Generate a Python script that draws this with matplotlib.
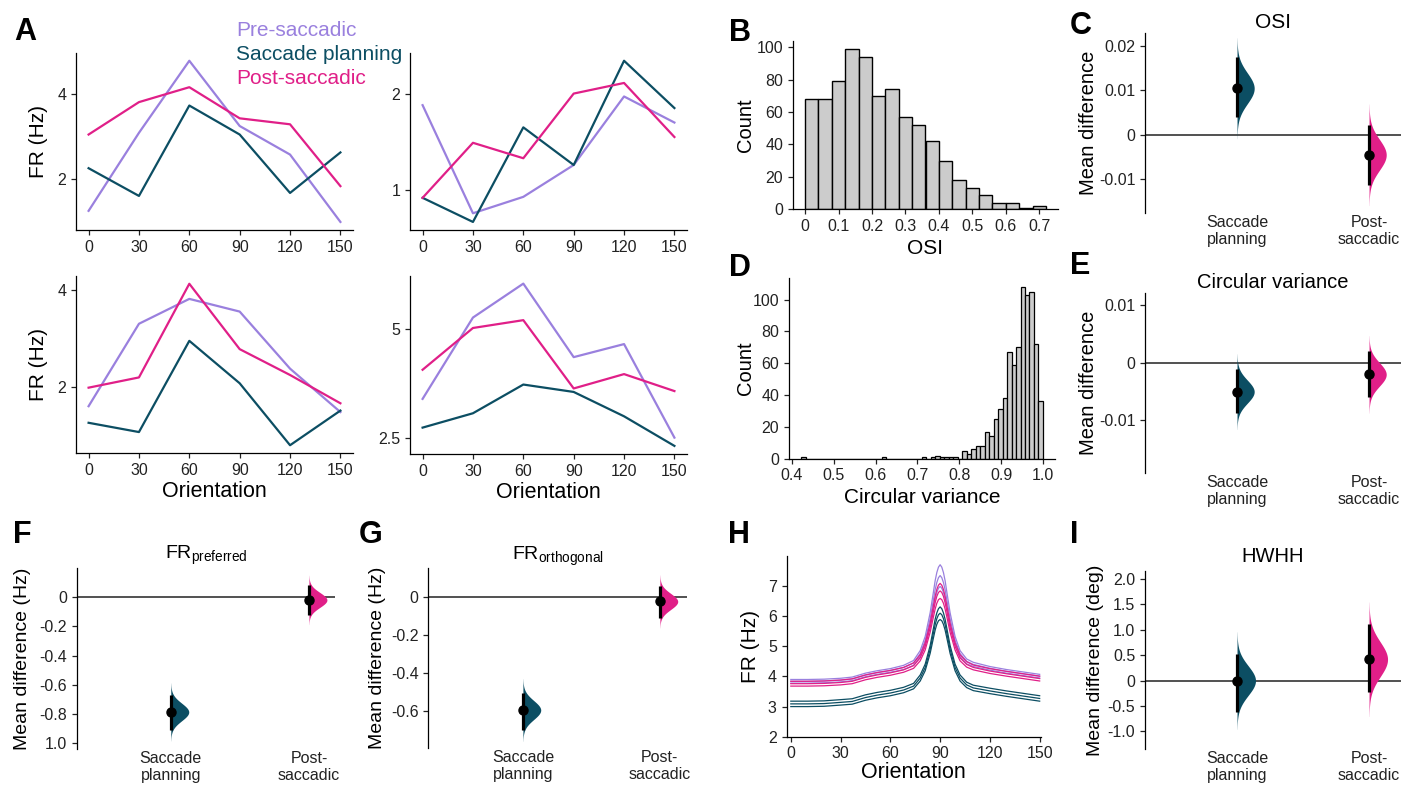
import numpy as np
import matplotlib
matplotlib.use('Agg')
import matplotlib.pyplot as plt

plt.rcParams['font.family'] = ['Liberation Sans', 'DejaVu Sans']
plt.rcParams['axes.unicode_minus'] = False
plt.rcParams['mathtext.default'] = 'regular'

PURPLE = '#9a80de'
TEAL = '#0c4e63'
PINK = '#e01f88'
BAR_GREY = '#cccccc'
W, H = 1401, 785

# ---------------- data ----------------
orient = [0, 30, 60, 90, 120, 150]
cond_names = ['Pre-saccadic', 'Saccade planning', 'Post-saccadic']
cond_colors = [PURPLE, TEAL, PINK]

# panel A, four example cells: pre / planning / post
cell1 = [[1.26, 3.09, 4.78, 3.25, 2.58, 1.00],
         [2.26, 1.61, 3.73, 3.05, 1.68, 2.63],
         [3.05, 3.81, 4.16, 3.43, 3.29, 1.84]]
cell2 = [[1.88, 0.76, 0.93, 1.26, 1.97, 1.70],
         [0.92, 0.67, 1.65, 1.26, 2.34, 1.85],
         [0.92, 1.49, 1.33, 2.00, 2.11, 1.55]]
cell3 = [[1.61, 3.30, 3.81, 3.55, 2.38, 1.49],
         [1.27, 1.08, 2.95, 2.08, 0.81, 1.52],
         [1.99, 2.20, 4.12, 2.78, 2.25, 1.67]]
cell4 = [[3.39, 5.26, 6.04, 4.35, 4.65, 2.50],
         [2.73, 3.06, 3.72, 3.55, 2.99, 2.31],
         [4.06, 5.02, 5.20, 3.63, 3.96, 3.57]]
cell_yticks = [[2, 4], [1, 2], [2, 4], [2.5, 5]]

# panel B, OSI histogram
osi_edges = [0.00, 0.04, 0.08, 0.12, 0.16, 0.20, 0.24, 0.28, 0.32, 0.36,
             0.40, 0.44, 0.48, 0.52, 0.56, 0.60, 0.64, 0.68, 0.72]
osi_counts = [68, 68, 79, 99, 94, 70, 74, 57, 52, 42, 30, 18, 13, 9, 4, 4, 1, 2]

# panel D, circular variance histogram (54 bins from 0.422 to 1.0)
cv_lo, cv_hi, cv_nbins = 0.422, 1.0, 54
cv_counts = [1, 0, 0, 0, 0, 0, 0, 0, 0, 0, 0, 0, 0, 0, 0, 0, 0, 0, 1, 0,
             0, 0, 0, 0, 0, 0, 0, 1, 0, 1, 2, 1, 1, 1, 1, 0, 5, 3, 6, 8,
             8, 17, 14, 25, 31, 38, 67, 59, 70, 108, 103, 105, 72, 36]

# estimation plots: mean difference and 95% CI vs pre-saccadic
groups = ['Saccade\nplanning', 'Post-\nsaccadic']
group_colors = [TEAL, PINK]
osi_mean = [0.0105, -0.0045]
osi_ci = [(0.0040, 0.0175), (-0.0113, 0.0023)]
cv_mean = [-0.0050, -0.0020]
cv_ci = [(-0.0088, -0.0010), (-0.0060, 0.0020)]
frpref_mean = [-0.785, -0.020]
frpref_ci = [(-0.905, -0.670), (-0.120, 0.080)]
frorth_mean = [-0.595, -0.025]
frorth_ci = [(-0.700, -0.505), (-0.110, 0.055)]
hwhh_mean = [0.00, 0.42]
hwhh_ci = [(-0.62, 0.52), (-0.22, 1.12)]

# panel H, population tuning curves (mean and +/- spread)
deg_h = [0, 10, 20, 30, 37, 45, 52, 60, 68, 74, 78, 81, 84, 86, 87, 88, 89, 90,
         91, 92, 93, 94, 96, 99, 102, 106, 110, 120, 130, 140, 150]
pre_mid = [3.84, 3.84, 3.85, 3.88, 3.92, 4.05, 4.13, 4.20, 4.30, 4.45, 4.76, 5.20,
           5.92, 6.56, 6.88, 7.12, 7.28, 7.35, 7.28, 7.12, 6.88, 6.56, 5.92, 5.20,
           4.76, 4.50, 4.40, 4.27, 4.17, 4.09, 4.01]
pre_sp = [0.06, 0.06, 0.06, 0.06, 0.06, 0.06, 0.06, 0.06, 0.07, 0.08, 0.10, 0.13,
          0.20, 0.26, 0.30, 0.33, 0.35, 0.36, 0.35, 0.33, 0.30, 0.26, 0.20, 0.13,
          0.10, 0.08, 0.07, 0.06, 0.06, 0.06, 0.06]
post_mid = [3.76, 3.76, 3.77, 3.80, 3.84, 3.97, 4.05, 4.12, 4.22, 4.36, 4.62, 5.00,
            5.62, 6.18, 6.45, 6.66, 6.79, 6.84, 6.79, 6.66, 6.45, 6.18, 5.62, 5.00,
            4.62, 4.40, 4.30, 4.18, 4.09, 4.01, 3.93]
post_sp = [0.08, 0.08, 0.08, 0.08, 0.08, 0.08, 0.08, 0.08, 0.08, 0.09, 0.10, 0.12,
           0.15, 0.19, 0.21, 0.23, 0.24, 0.25, 0.24, 0.23, 0.21, 0.19, 0.15, 0.12,
           0.10, 0.09, 0.08, 0.08, 0.08, 0.08, 0.08]
plan_mid = [3.09, 3.09, 3.10, 3.14, 3.17, 3.30, 3.38, 3.45, 3.55, 3.68, 3.95, 4.30,
            4.90, 5.45, 5.72, 5.92, 6.05, 6.10, 6.05, 5.92, 5.72, 5.45, 4.90, 4.30,
            3.95, 3.72, 3.62, 3.52, 3.43, 3.35, 3.27]
plan_sp = [0.09, 0.09, 0.09, 0.09, 0.09, 0.09, 0.09, 0.09, 0.09, 0.09, 0.10, 0.11,
           0.13, 0.16, 0.18, 0.19, 0.20, 0.21, 0.20, 0.19, 0.18, 0.16, 0.13, 0.11,
           0.10, 0.09, 0.09, 0.09, 0.09, 0.09, 0.09]

fig = plt.figure(figsize=(W / 100, H / 100), dpi=100)


def add_ax(l, t, r, b):
    return fig.add_axes([l / W, 1 - b / H, (r - l) / W, (b - t) / H])


def clean(ax):
    for s in ['top', 'right']:
        ax.spines[s].set_visible(False)
    for s in ['left', 'bottom']:
        ax.spines[s].set_linewidth(0.9)
    ax.tick_params(labelsize=11.5, length=3.5, width=0.9, colors='#222')


def ylabel_at(ax, text, x_px, size=14.5):
    ax.set_ylabel(text, fontsize=size)
    bb = ax.get_position()
    ax.yaxis.set_label_coords((x_px / W - bb.x0) / bb.width, 0.5)
    ax.yaxis.label.set_va('center')


def xlabel_at(ax, text, y_px, size=15):
    ax.set_xlabel(text, fontsize=size)
    bb = ax.get_position()
    ax.xaxis.set_label_coords(0.5, (1 - y_px / H - bb.y0) / bb.height)
    ax.xaxis.label.set_va('center')


def letter(x_px, y_px, s):
    fig.text(x_px / W, 1 - y_px / H, s, fontsize=22, fontweight='bold',
             ha='center', va='center')


def estimation(ax, means, cis, xlim, ylim, yticks, yticklabels, width=0.13):
    for s in ['top', 'right', 'bottom']:
        ax.spines[s].set_visible(False)
    ax.spines['left'].set_linewidth(0.9)
    ax.axhline(0, color='#333', lw=1.2, zorder=0)
    for i, (m, (lo, hi), c) in enumerate(zip(means, cis, group_colors)):
        pos = i + 1
        sd = (hi - lo) / 3.92
        yy = np.linspace(m - 3.3 * sd, m + 3.3 * sd, 200)
        xx = width * np.exp(-0.5 * ((yy - m) / sd) ** 2)
        ax.fill_betweenx(yy, pos, pos + xx, color=c, lw=0)
        ax.plot([pos, pos], [lo, hi], color='black', lw=2.3, solid_capstyle='butt')
        ax.plot(pos, m, 'o', color='black', ms=6.5)
    ax.set_xlim(*xlim)
    ax.set_ylim(*ylim)
    ax.set_yticks(yticks)
    ax.set_yticklabels(yticklabels)
    ax.set_xticks([1, 2])
    ax.set_xticklabels(groups)
    ax.tick_params(axis='y', labelsize=11.5, length=3.5, width=0.9, colors='#222')
    ax.tick_params(axis='x', length=0, pad=1, labelsize=11.5, colors='#222')


# ---------------- panel A ----------------
a_rects = [(76, 52.7, 353, 230), (410, 52.7, 687, 230),
           (76, 275.7, 353, 453.3), (410, 275.5, 687, 454)]
for k, (cell, rect, yt) in enumerate(zip([cell1, cell2, cell3, cell4], a_rects, cell_yticks)):
    ax = add_ax(*rect)
    clean(ax)
    for vals, c in zip(cell, cond_colors):
        ax.plot(orient, vals, color=c, lw=1.6)
    ax.set_xticks(orient)
    ax.set_yticks(yt)
    ax.set_yticklabels([f'{v:g}' for v in yt])
    if k in (0, 2):
        ylabel_at(ax, 'FR (Hz)', 39, size=15)
    if k in (2, 3):
        xlabel_at(ax, 'Orientation', 492, size=15.5)
for name, c, y in zip(cond_names, cond_colors, [30, 54, 79]):
    fig.text(236 / W, 1 - y / H, name, color=c, fontsize=15, ha='left', va='center')
letter(25, 32, 'A')

# ---------------- panel B ----------------
ax = add_ax(793, 40.7, 1058, 209.3)
clean(ax)
ax.hist(osi_edges[:-1], bins=osi_edges, weights=osi_counts, color=BAR_GREY,
        edgecolor='black', linewidth=1.0)
ax.set_xticks([0, 0.1, 0.2, 0.3, 0.4, 0.5, 0.6, 0.7])
ax.set_xticklabels(['0', '0.1', '0.2', '0.3', '0.4', '0.5', '0.6', '0.7'])
ax.set_yticks([0, 20, 40, 60, 80, 100])
ylabel_at(ax, 'Count', 745)
xlabel_at(ax, 'OSI', 248)
letter(740, 33, 'B')

# ---------------- panel D ----------------
ax = add_ax(789, 278.3, 1055, 458.7)
clean(ax)
cv_edges = np.linspace(cv_lo, cv_hi, cv_nbins + 1)
ax.hist(cv_edges[:-1], bins=cv_edges, weights=cv_counts, color=BAR_GREY,
        edgecolor='black', linewidth=0.9)
ax.set_xticks([0.4, 0.5, 0.6, 0.7, 0.8, 0.9, 1.0])
ax.set_xticklabels(['0.4', '0.5', '0.6', '0.7', '0.8', '0.9', '1.0'])
ax.set_yticks([0, 20, 40, 60, 80, 100])
ylabel_at(ax, 'Count', 745)
xlabel_at(ax, 'Circular variance', 498)
letter(740, 268, 'D')

# ---------------- panel C ----------------
ax = add_ax(1145, 33.3, 1401, 213.3)
estimation(ax, osi_mean, osi_ci, (0.303, 2.242), (-0.0177, 0.0229),
           [-0.01, 0, 0.01, 0.02], ['-0.01', '0', '0.01', '0.02'])
ax.set_title('OSI', fontsize=15, pad=3.5)
ylabel_at(ax, 'Mean difference', 1089)
letter(1081, 26, 'C')

# ---------------- panel E ----------------
ax = add_ax(1145, 292.7, 1401, 473.3)
estimation(ax, cv_mean, cv_ci, (0.303, 2.242), (-0.0192, 0.0122),
           [-0.01, 0, 0.01], ['-0.01', '0', '0.01'])
ax.set_title('Circular variance', fontsize=14.5, pad=3.5)
ylabel_at(ax, 'Mean difference', 1089)
letter(1080, 266, 'E')

# ---------------- panel F ----------------
ax = add_ax(76.7, 567.7, 335.2, 749.3)
estimation(ax, frpref_mean, frpref_ci, (0.319, 2.19), (-1.04, 0.2),
           [-1.0, -0.8, -0.6, -0.4, -0.2, 0],
           ['1.0', '-0.8', '-0.6', '-0.4', '-0.2', '0'])
ax.set_title('FR$_{\\mathregular{preferred}}$', fontsize=14, pad=6)
ylabel_at(ax, 'Mean difference (Hz)', 22, size=14)
letter(22, 535, 'F')

# ---------------- panel G ----------------
ax = add_ax(428.4, 568.3, 687.3, 748.3)
estimation(ax, frorth_mean, frorth_ci, (0.31, 2.2), (-0.796, 0.149),
           [-0.6, -0.4, -0.2, 0], ['-0.6', '-0.4', '-0.2', '0'])
ax.set_title('FR$_{\\mathregular{orthogonal}}$', fontsize=14, pad=6)
ylabel_at(ax, 'Mean difference (Hz)', 378, size=14)
letter(371, 535, 'G')

# ---------------- panel H ----------------
ax = add_ax(786.5, 556, 1041, 736.7)
clean(ax)
for mid, sp, c in [(pre_mid, pre_sp, PURPLE), (post_mid, post_sp, PINK),
                   (plan_mid, plan_sp, TEAL)]:
    mid = np.array(mid)
    sp = np.array(sp)
    for line in (mid + sp, mid, mid - sp):
        ax.plot(deg_h, line, color=c, lw=0.9)
ax.set_xlim(-2.6, 150.8)
ax.set_ylim(2, 8)
ax.set_xticks([0, 30, 60, 90, 120, 150])
ax.set_yticks([2, 3, 4, 5, 6, 7])
ylabel_at(ax, 'FR (Hz)', 750, size=15)
xlabel_at(ax, 'Orientation', 773, size=15.5)
letter(739, 535, 'H')

# ---------------- panel I ----------------
ax = add_ax(1145, 571, 1401, 749.3)
estimation(ax, hwhh_mean, hwhh_ci, (0.303, 2.242), (-1.355, 2.16),
           [-1.0, -0.5, 0, 0.5, 1.0, 1.5, 2.0],
           ['-1.0', '-0.5', '0', '0.5', '1.0', '1.5', '2.0'], width=0.14)
ax.set_title('HWHH', fontsize=14.5, pad=6.5)
ylabel_at(ax, 'Mean difference (deg)', 1096, size=14)
letter(1074, 535, 'I')

fig.savefig('out.png', dpi=100)
